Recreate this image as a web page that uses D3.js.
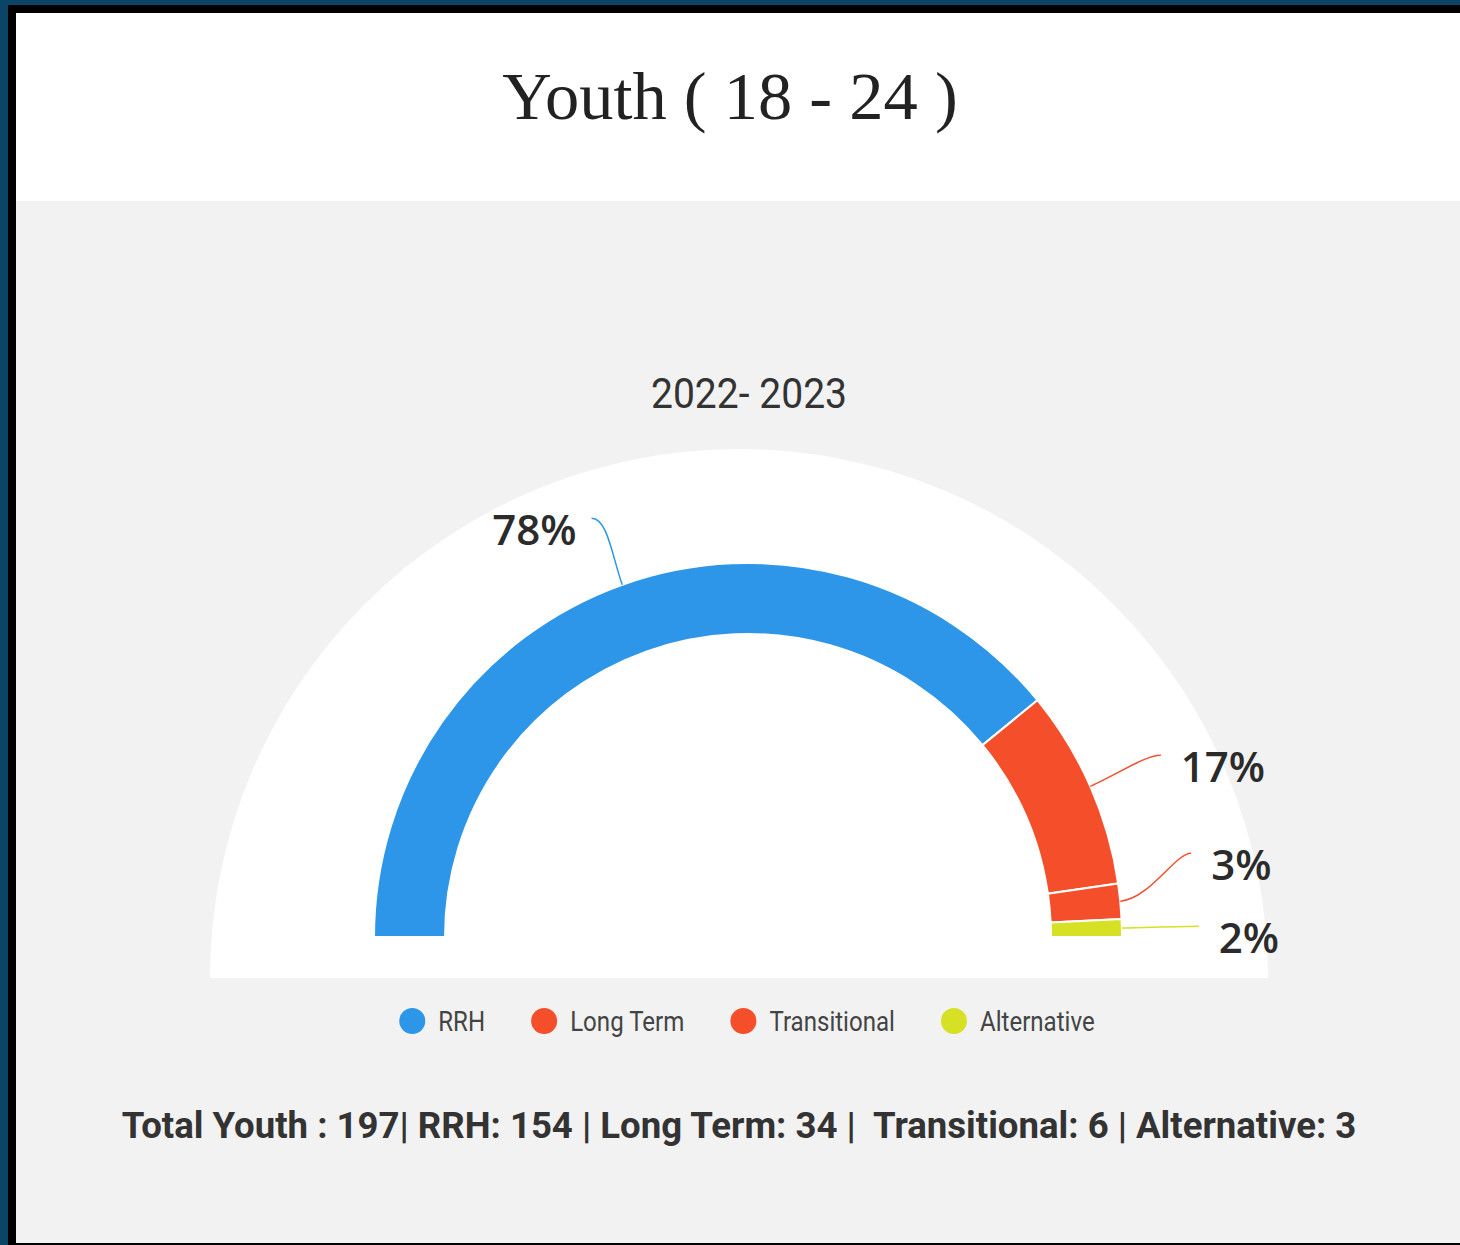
<!DOCTYPE html>
<html>
<head>
<meta charset="utf-8">
<script src="https://cdn.jsdelivr.net/npm/d3@7"></script>
<style>
  body { margin: 0; background: #0a4466; }
  svg { display: block; }
  text { white-space: pre; }
</style>
</head>
<body>
<svg id="chart"></svg>
<script>
// data
const categories = ["RRH", "Long Term", "Transitional", "Alternative"];
const counts = [154, 34, 6, 3];
const colors = ["#2e96e8", "#f44f2a", "#f44f2a", "#d6e024"];
const title = "Youth ( 18 - 24 )";
const subtitle = "2022- 2023";
const total = 197;

const width = 1460, height = 1245;
const cx = 748, cy = 937, rOuter = 374, rInner = 303, rLabel = 451;

const svg = d3.select("#chart").attr("width", width).attr("height", height);

// frame
svg.append("rect").attr("width", width).attr("height", height).attr("fill", "#0a4466");
svg.append("rect").attr("x", 8).attr("y", 5).attr("width", width).attr("height", height - 5).attr("fill", "#000");
svg.append("rect").attr("x", 16).attr("y", 13).attr("width", width).attr("height", 188).attr("fill", "#fff");
svg.append("rect").attr("x", 16).attr("y", 201).attr("width", width).attr("height", 1042).attr("fill", "#f2f2f2");

svg.append("text")
  .attr("x", 730).attr("y", 119)
  .attr("text-anchor", "middle")
  .attr("font-family", "'Liberation Serif', 'Times New Roman', serif")
  .attr("font-size", 68.5)
  .attr("fill", "#222")
  .text(title);

svg.append("text")
  .attr("transform", "translate(749,408) scale(0.93,1)")
  .attr("text-anchor", "middle")
  .attr("font-family", "Roboto, sans-serif")
  .attr("font-size", 42)
  .attr("fill", "#333")
  .text(subtitle);

// white half disc behind the gauge
svg.append("path")
  .attr("transform", "translate(739,978)")
  .attr("d", d3.arc()({ innerRadius: 0, outerRadius: 529, startAngle: -Math.PI / 2, endAngle: Math.PI / 2 }))
  .attr("fill", "#fff");

const data = categories.map((c, i) => ({ category: c, value: counts[i], color: colors[i] }));

const pie = d3.pie()
  .value(d => d.value)
  .sort(null)
  .startAngle(-Math.PI / 2)
  .endAngle(Math.PI / 2);

const arcs = pie(data);
const arc = d3.arc().innerRadius(rInner).outerRadius(rOuter);

const g = svg.append("g").attr("transform", `translate(${cx},${cy})`);

g.selectAll("path.slice")
  .data(arcs)
  .enter()
  .append("path")
  .attr("class", "slice")
  .attr("d", arc)
  .attr("fill", d => d.data.color)
  .attr("stroke", "#fff")
  .attr("stroke-width", 2);

// labels
const labels = arcs.map(d => {
  const a = (d.startAngle + d.endAngle) / 2;
  return {
    d: d,
    a: a,
    sx: rOuter * Math.sin(a),
    sy: -rOuter * Math.cos(a),
    ly: -rLabel * Math.cos(a),
    right: Math.sin(a) > 0
  };
});

// push right side labels apart, bottom up
const rightLabels = labels.filter(l => l.right).sort((a, b) => b.ly - a.ly);
for (let i = 1; i < rightLabels.length; i++) {
  const prev = rightLabels[i - 1];
  if (prev.ly - rightLabels[i].ly < 73) rightLabels[i].ly = prev.ly - 73;
}
labels.forEach(l => {
  if (!l.right) l.ly += 6;
  const r = l.right ? rLabel : rLabel - 4;
  const dx = Math.sqrt(Math.max(0, r * r - l.ly * l.ly));
  l.lx = l.right ? dx : -dx;
});

const pct = d => Math.round(d.value / total * 100) + "%";

g.selectAll("path.leader")
  .data(labels)
  .enter()
  .append("path")
  .attr("class", "leader")
  .attr("fill", "none")
  .attr("stroke", l => l.d.data.color)
  .attr("stroke-width", 1.5)
  .attr("d", l => {
    const c1x = l.sx + Math.sin(l.a) * 30;
    const c1y = l.sy - Math.cos(l.a) * 30;
    const c2x = l.lx + (l.right ? -16 : 16);
    return `M${l.sx},${l.sy} C${c1x},${c1y} ${c2x},${l.ly} ${l.lx},${l.ly}`;
  });

g.selectAll("text.pct")
  .data(labels)
  .enter()
  .append("text")
  .attr("class", "pct")
  .attr("x", l => l.right ? l.lx + 20 : l.lx - 15)
  .attr("y", l => l.ly + 12)
  .attr("dy", "0.35em")
  .attr("text-anchor", l => l.right ? "start" : "end")
  .attr("font-family", "'Open Sans', sans-serif")
  .attr("font-weight", 600)
  .attr("font-size", 42)
  .attr("fill", "#2b2b2b")
  .text(l => pct(l.d.data));

// legend
const sx = 0.86;
const legend = svg.append("g").attr("transform", "translate(0,1021)");
const items = legend.selectAll("g.item")
  .data(data)
  .enter()
  .append("g")
  .attr("class", "item");

items.append("circle")
  .attr("r", 13)
  .attr("fill", d => d.color);

items.append("text")
  .attr("transform", `translate(26,10) scale(${sx},1)`)
  .attr("font-family", "Roboto, sans-serif")
  .attr("font-size", 28)
  .attr("fill", "#444")
  .text(d => d.category);

const widths = [];
items.each(function () {
  widths.push(26 + d3.select(this).select("text").node().getComputedTextLength() * sx);
});
const step = 59;
const totalW = 13 + d3.sum(widths) + step * (widths.length - 1);
let pos = 747 - totalW / 2 + 13;
items.attr("transform", (d, i) => {
  const x = pos;
  pos += widths[i] + step;
  return `translate(${x},0)`;
});

// totals line
svg.append("text")
  .attr("x", 739).attr("y", 1138)
  .attr("text-anchor", "middle")
  .attr("font-family", "Roboto, sans-serif")
  .attr("font-weight", 700)
  .attr("font-size", 36.6)
  .attr("fill", "#333")
  .text(`Total Youth : ${total}| ${categories.map((c, i) => `${c}: ${counts[i]}`).join(" | ").replace("34 | ", "34 |  ")}`);
</script>
</body>
</html>
